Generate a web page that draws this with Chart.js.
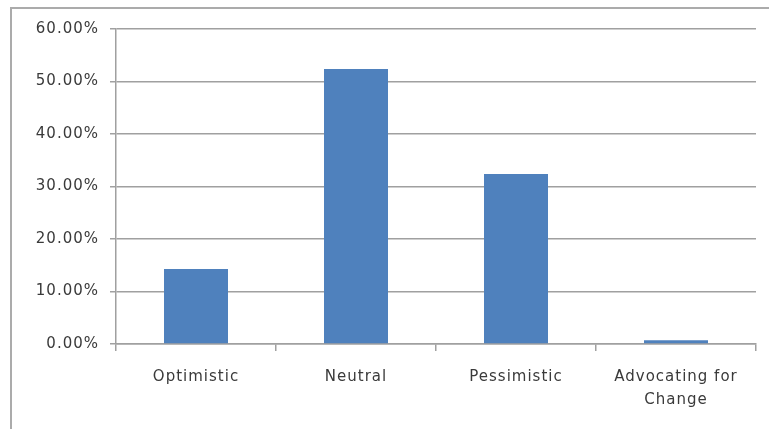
<!DOCTYPE html>
<html>
<head>
<meta charset="utf-8">
<script src="https://cdn.jsdelivr.net/npm/chart.js@4/dist/chart.umd.min.js"></script>
<style>
  html, body { margin: 0; padding: 0; background: #ffffff; }
  #wrap { position: relative; width: 769px; height: 429px; overflow: hidden; }
  #frame { position: absolute; left: 10px; top: 7px; width: 900px; height: 600px;
           border-left: 2px solid #ababab; border-top: 2px solid #ababab; }
  #c { position: absolute; left: 0; top: 0; }
</style>
</head>
<body>
<div id="wrap">
  <div id="frame"></div>
  <canvas id="c" width="769" height="429"></canvas>
</div>
<script>
// Share of responses by outlook (percent)
const categories = ['Optimistic', 'Neutral', 'Pessimistic', ['Advocating for', 'Change']];
const shares = [14.3, 52.4, 32.4, 0.7];
const yMin = 0, yMax = 60, yStep = 10;

const font = { family: '"DejaVu Sans", Verdana, sans-serif', size: 15, lineHeight: 1.53 };
const textColor = '#3a3a3a';
const lineColor = '#a0a0a0';

// Slightly looser letter spacing for all canvas text
const spacing = {
  id: 'spacing',
  beforeDraw(chart) { chart.ctx.letterSpacing = '1px'; }
};

new Chart(document.getElementById('c'), {
  type: 'bar',
  data: {
    labels: categories,
    datasets: [{
      data: shares,
      backgroundColor: '#4f81bd',
      borderWidth: 0,
      categoryPercentage: 1.0,
      barPercentage: 0.4
    }]
  },
  plugins: [spacing],
  options: {
    responsive: false,
    animation: false,
    layout: { padding: { top: 29, right: 13, left: 0, bottom: 0 } },
    plugins: { legend: { display: false }, tooltip: { enabled: false } },
    scales: {
      x: {
        afterFit: s => { s.height = 85; },
        grid: { offset: true, drawOnChartArea: false, tickLength: 7, color: lineColor, lineWidth: 1.5 },
        border: { color: lineColor, width: 1.5 },
        ticks: { color: textColor, font: font, padding: 15, maxRotation: 0, autoSkip: false }
      },
      y: {
        min: yMin, max: yMax,
        afterFit: s => { s.width = 116; },
        grid: { color: lineColor, lineWidth: 1.5, tickLength: 6 },
        border: { color: lineColor, width: 1.5 },
        ticks: {
          stepSize: yStep, color: textColor, font: font, padding: 11,
          callback: v => v.toFixed(2) + '%'
        }
      }
    }
  }
});
</script>
</body>
</html>
